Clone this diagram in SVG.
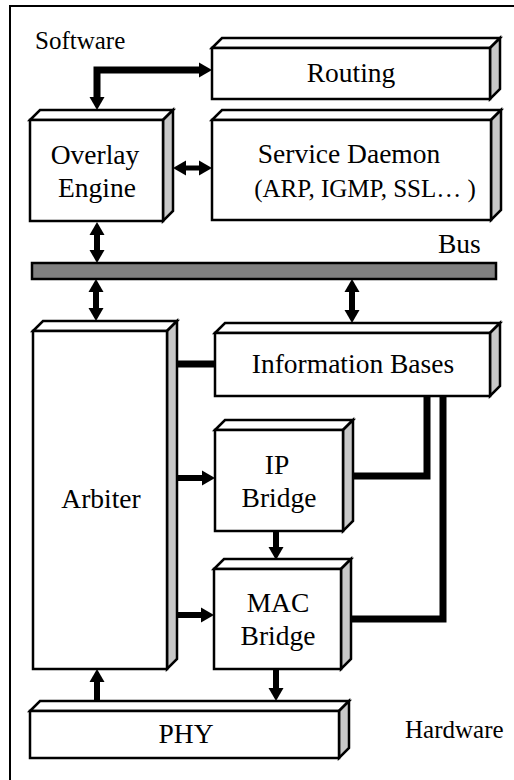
<svg xmlns="http://www.w3.org/2000/svg" width="514" height="780" viewBox="0 0 514 780">
  <style>
    .front { fill: #ffffff; stroke: #000000; stroke-width: 2.5; stroke-linejoin: miter; }
    .top { fill: #ffffff; stroke: #000000; stroke-width: 2.5; stroke-linejoin: miter; }
    .side { fill: #c8c8c8; stroke: #000000; stroke-width: 2.5; stroke-linejoin: miter; }
    text { font-family: "Times New Roman", Tinos, "Liberation Serif", "Noto Serif", "Nimbus Roman", "FreeSerif", "DejaVu Serif", Times, serif; fill: #000000; }
    .label { font-size: 27.5px; text-anchor: middle; }
    .note { font-size: 25px; }
    .arrow { fill: none; stroke: #000000; stroke-width: 6; stroke-linejoin: miter; marker-end: url(#head); }
    .darrow { fill: none; stroke: #000000; stroke-width: 6; marker-start: url(#head); marker-end: url(#head); }
    .link { fill: none; stroke: #000000; stroke-width: 7; stroke-linejoin: miter; }
  </style>
  <defs>
    <marker id="head" markerUnits="userSpaceOnUse" markerWidth="14" markerHeight="16" refX="0" refY="7.5" orient="auto-start-reverse" overflow="visible">
      <path d="M0,0 L13,7.5 L0,15 Z" fill="#000000"/>
    </marker>
  </defs>

  <rect width="514" height="780" fill="#ffffff"/>
  <!-- outer frame -->
  <rect x="10" y="6" width="600" height="800" fill="none" stroke="#000000" stroke-width="2"/>

  <text class="note" x="35" y="49">Software</text>
  <text class="note" x="405" y="738">Hardware</text>
  <text class="note" x="438" y="253" style="font-size:27.5px">Bus</text>

  <!-- bus bar -->
  <g id="bus">
    <rect x="32" y="263" width="464" height="16" fill="#808080" stroke="#000000" stroke-width="2.5"/>
  </g>

  <g id="routing">
    <polygon class="top" points="212,48 222,38 500,38 490,48"/>
    <polygon class="side" points="490,48 500,38 500,89 490,99"/>
    <rect class="front" x="212" y="48" width="278" height="51"/>
    <text class="label" x="351" y="82">Routing</text>
  </g>

  <g id="overlay-engine">
    <polygon class="top" points="30,120 40,110 173,110 163,120"/>
    <polygon class="side" points="163,120 173,110 173,211 163,221"/>
    <rect class="front" x="30" y="120" width="133" height="101"/>
    <text class="label" x="95" y="164">Overlay</text>
    <text class="label" x="97" y="197">Engine</text>
  </g>

  <g id="service-daemon">
    <polygon class="top" points="212,120 222,110 501,110 491,120"/>
    <polygon class="side" points="491,120 501,110 501,210 491,220"/>
    <rect class="front" x="212" y="120" width="279" height="100"/>
    <text class="label" x="349" y="163">Service Daemon</text>
    <text class="label" x="365" y="197" style="font-size:25px">(ARP, IGMP, SSL… )</text>
  </g>

  <g id="arbiter">
    <polygon class="top" points="33,331 43,321 177,321 167,331"/>
    <polygon class="side" points="167,331 177,321 177,659 167,669"/>
    <rect class="front" x="33" y="331" width="134" height="338"/>
    <text class="label" x="101" y="508">Arbiter</text>
  </g>

  <g id="information-bases">
    <polygon class="top" points="215,333 225,323 500,323 490,333"/>
    <polygon class="side" points="490,333 500,323 500,386 490,396"/>
    <rect class="front" x="215" y="333" width="275" height="63"/>
    <text class="label" x="353" y="373">Information Bases</text>
  </g>

  <g id="ip-bridge">
    <polygon class="top" points="215,430 225,420 353,420 343,430"/>
    <polygon class="side" points="343,430 353,420 353,521 343,531"/>
    <rect class="front" x="215" y="430" width="128" height="101"/>
    <text class="label" x="277" y="474">IP</text>
    <text class="label" x="279" y="507">Bridge</text>
  </g>

  <g id="mac-bridge">
    <polygon class="top" points="214,569 224,559 351,559 341,569"/>
    <polygon class="side" points="341,569 351,559 351,659 341,669"/>
    <rect class="front" x="214" y="569" width="127" height="100"/>
    <text class="label" x="278" y="612">MAC</text>
    <text class="label" x="278" y="645">Bridge</text>
  </g>

  <g id="phy">
    <polygon class="top" points="30,711 40,701 349,701 339,711"/>
    <polygon class="side" points="339,711 349,701 349,748 339,758"/>
    <rect class="front" x="30" y="711" width="309" height="47"/>
    <text class="label" x="186" y="743">PHY</text>
  </g>

  <!-- connectors -->
  <g id="connectors">
    <path class="darrow" style="stroke-width:7" d="M97,97 V70 H199"/>
    <path class="darrow" style="stroke-width:5" d="M186,168 H199"/>
    <path class="darrow" d="M97,235 V250"/>
    <path class="darrow" d="M96,292 V308"/>
    <path class="darrow" d="M352,292 V310"/>
    <path class="link" d="M177,364 H215"/>
    <path class="arrow" d="M177,478 H202"/>
    <path class="link" d="M427,396 V476 H353"/>
    <path class="link" d="M443,396 V619 H351"/>
    <path class="arrow" d="M276,531 V547"/>
    <path class="arrow" d="M177,615 H201"/>
    <path class="arrow" d="M276,669 V688"/>
    <path class="arrow" d="M97,701 V682"/>
  </g>
</svg>
